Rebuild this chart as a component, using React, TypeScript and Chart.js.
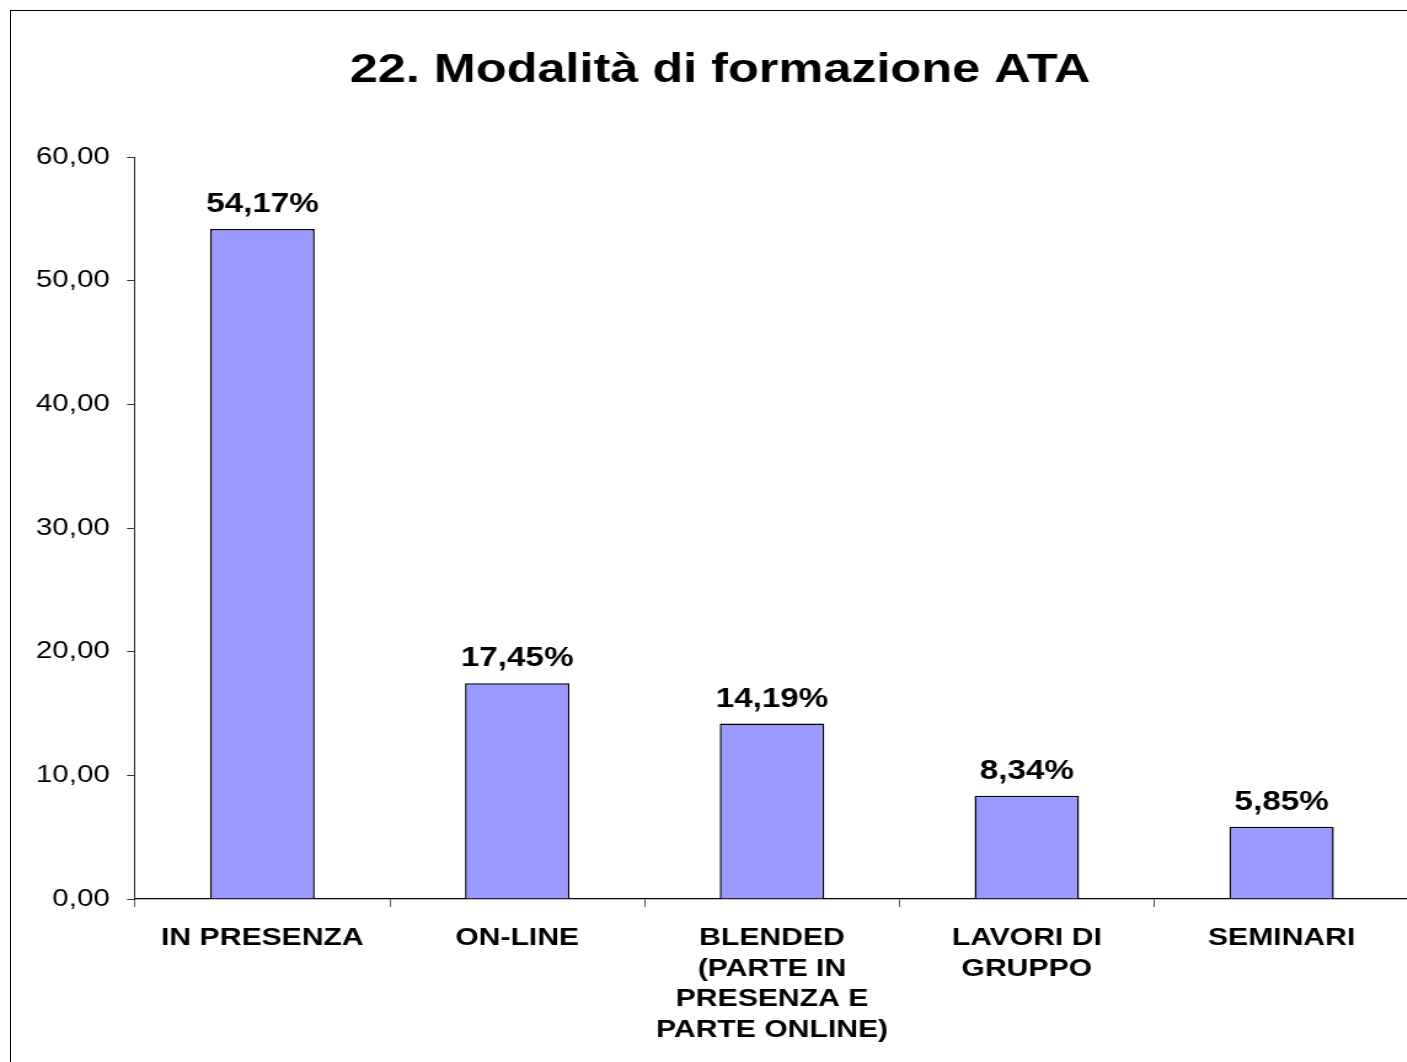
import React, { useEffect, useRef } from "react";
import { Chart, registerables } from "chart.js";

Chart.register(...registerables);

// ---- data ----
const titleText = "22. Modalità di formazione ATA";
const categories: (string | string[])[] = [
  "IN PRESENZA",
  "ON-LINE",
  ["BLENDED", "(PARTE IN", "PRESENZA E", "PARTE ONLINE)"],
  ["LAVORI DI", "GRUPPO"],
  "SEMINARI",
];
const values = [54.17, 17.45, 14.19, 8.34, 5.85];
const yMin = 0;
const yMax = 60;
const yStep = 10;

// ---- layout ----
const STRETCH = 1.23; // the reference is horizontally stretched
const CSS_W = 1418;
const CSS_H = 1051;
const W = Math.round(CSS_W / STRETCH);
const SX = CSS_W / W;
const FONT = '"Liberation Sans", Arial, sans-serif';

const fmt = (v: number) => v.toFixed(2).replace(".", ",");

const valueLabels = {
  id: "valueLabels",
  afterDatasetsDraw(chart: any) {
    const ctx = chart.ctx;
    const meta = chart.getDatasetMeta(0);
    ctx.save();
    ctx.font = `bold 27px ${FONT}`;
    ctx.fillStyle = "#000";
    ctx.textAlign = "center";
    ctx.textBaseline = "alphabetic";
    meta.data.forEach((bar: any, i: number) => {
      ctx.fillText(fmt(values[i]) + "%", bar.x, bar.y - 17);
    });
    ctx.restore();
  },
};

export default function App() {
  const ref = useRef<HTMLCanvasElement | null>(null);

  useEffect(() => {
    const canvas = ref.current!;
    const padL = (31 - 11) / SX;
    const padR = (1429 - 1409) / SX;
    const chartLeft = (135 - 11) / SX;
    const chartBottom = 899 - 11;
    const chart = new Chart(canvas, {
      type: "bar",
      data: {
        labels: categories,
        datasets: [
          {
            data: values,
            backgroundColor: "#9999FF",
            borderColor: "#000000",
            borderWidth: 1.5,
            barPercentage: 0.41,
            categoryPercentage: 1.0,
          },
        ],
      },
      options: {
        responsive: false,
        animation: false,
        devicePixelRatio: 1,
        layout: { padding: { left: padL, right: padR, top: 0, bottom: 0 } },
        plugins: {
          legend: { display: false },
          tooltip: { enabled: false },
          title: {
            display: true,
            text: titleText,
            color: "#000",
            font: { family: FONT, size: 41, weight: "bold", lineHeight: 1.2 },
            padding: { top: 35, bottom: 61.8 },
          },
        },
        scales: {
          x: {
            grid: {
              offset: true,
              drawOnChartArea: false,
              drawTicks: true,
              tickLength: 8,
              color: "#555",
            },
            border: { display: true, color: "#000", width: 1.2 },
            ticks: {
              color: "#000",
              font: { family: FONT, size: 24.5, weight: "bold", lineHeight: 1.245 },
              padding: 16,
              maxRotation: 0,
              autoSkip: false,
            },
            afterFit(scale: any) {
              scale.height = CSS_H - chartBottom;
            },
          },
          y: {
            min: yMin,
            max: yMax,
            grid: {
              drawOnChartArea: false,
              drawTicks: true,
              tickLength: 6.5,
              color: "#333",
            },
            border: { display: true, color: "#222", width: 1 },
            ticks: {
              stepSize: yStep,
              color: "#000",
              font: { family: FONT, size: 24 },
              padding: 14,
              callback: (v: any) => fmt(Number(v)),
            },
            afterFit(scale: any) {
              scale.width = chartLeft - padL;
            },
          },
        },
      },
      plugins: [valueLabels],
    });
    return () => chart.destroy();
  }, []);

  return (
    <div
      style={{
        position: "fixed",
        left: 0,
        top: 0,
        width: 1407,
        height: 1062,
        overflow: "hidden",
        background: "#fff",
      }}
    >
      <div
        style={{
          position: "absolute",
          left: 10,
          top: 10,
          width: 1420,
          height: 1100,
          border: "1px solid #000",
          boxSizing: "border-box",
        }}
      />
      <canvas
        ref={ref}
        width={W}
        height={CSS_H}
        style={{
          position: "absolute",
          left: 11,
          top: 11,
          width: CSS_W,
          height: CSS_H,
        }}
      />
    </div>
  );
}
